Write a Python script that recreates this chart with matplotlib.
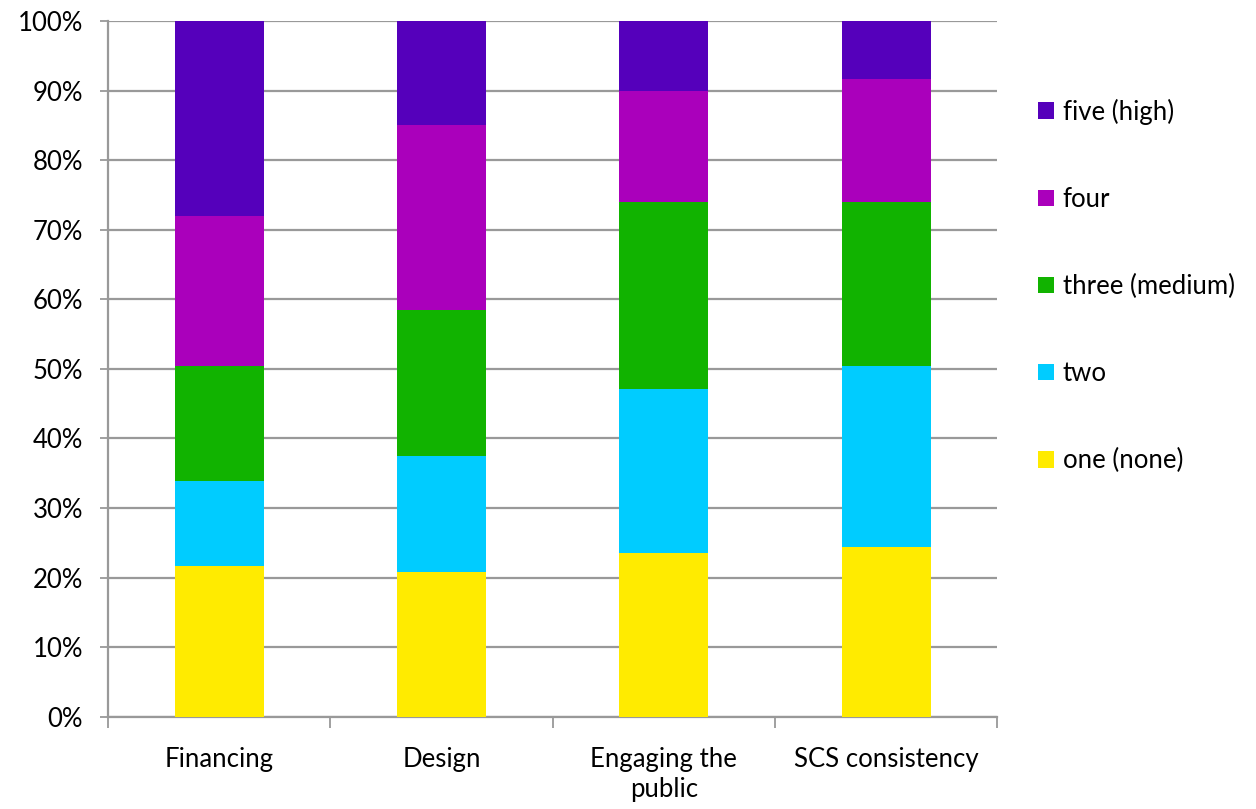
import matplotlib.pyplot as plt
import numpy as np

# ── Data ──────────────────────────────────────────────────────────────────────
categories = ["Financing", "Design", "Engaging the\npublic", "SCS consistency"]
levels = ["one (none)", "two", "three (medium)", "four", "five (high)"]

one   = [21.6, 20.8, 23.6, 24.4]
two   = [12.3, 16.7, 23.5, 26.0]
three = [16.5, 20.9, 26.9, 23.6]
four  = [21.6, 26.6, 15.9, 17.6]
five  = [28.0, 15.0, 10.1,  8.4]

colors = ["#FFEB00", "#00CCFF", "#11B300", "#AA00BB", "#5500BB"]

# ── Plot ──────────────────────────────────────────────────────────────────────
plt.rcParams["font.family"] = ["Lato", "DejaVu Sans"]

fig = plt.figure(figsize=(12.56, 8.09), dpi=100, facecolor="white")
ax = fig.add_axes([0.086, 0.114, 0.708, 0.860])

x = np.arange(len(categories))
bottom = np.zeros(len(categories))
handles = []
for vals, col, lbl in zip([one, two, three, four, five], colors, levels):
    b = ax.bar(x, vals, width=0.4, bottom=bottom, color=col, label=lbl,
               edgecolor="none", zorder=3)
    handles.append(b)
    bottom += np.array(vals)

ax.set_xlim(-0.5, len(categories) - 0.5)
ax.set_ylim(0, 100)
ax.set_yticks(np.arange(0, 101, 10))
ax.set_yticklabels([f"{v}%" for v in range(0, 101, 10)], fontsize=18.5)
ax.yaxis.grid(True, color="#999999", linewidth=1.6, zorder=0)

ax.set_xticks(x)
ax.set_xticklabels(categories, fontsize=18.5, linespacing=1.25)
ax.set_xticks(np.arange(-0.5, len(categories)), minor=True)
ax.tick_params(axis="x", which="major", length=0, pad=22)
ax.tick_params(axis="x", which="minor", length=8, width=1.3, color="#999999")
ax.tick_params(axis="y", length=6, width=1.3, color="#999999", pad=12)

for side in ["top", "right"]:
    ax.spines[side].set_visible(False)
for side in ["left", "bottom"]:
    ax.spines[side].set_color("#999999")
    ax.spines[side].set_linewidth(1.6)

ax.legend(handles[::-1], levels[::-1], loc="upper left",
          bbox_to_anchor=(1.02, 0.922), frameon=False, fontsize=18.5,
          handlelength=0.6, handleheight=0.6, handletextpad=0.35,
          labelspacing=2.42)

fig.savefig("out.png", dpi=100, facecolor="white")
